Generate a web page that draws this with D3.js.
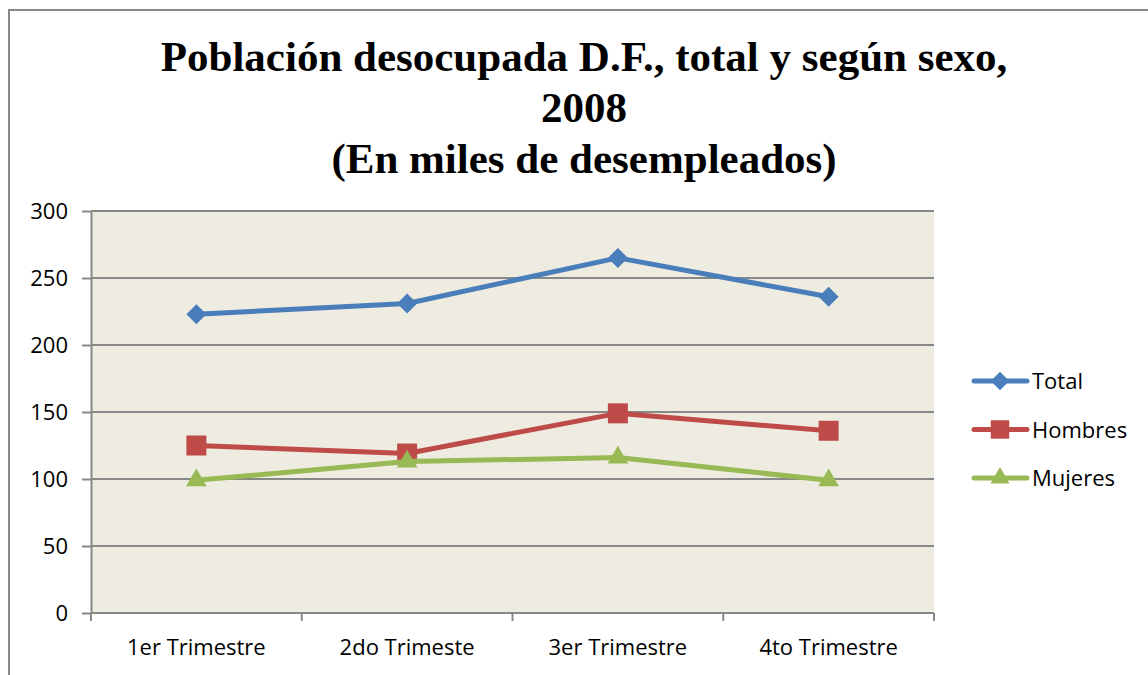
<!DOCTYPE html>
<html>
<head>
<meta charset="utf-8">
<script src="https://cdn.jsdelivr.net/npm/d3@7"></script>
<style>
  body { margin: 0; background: #fff; }
  svg { display: block; }
</style>
</head>
<body>
<script>
// chart data
const categories = ["1er Trimestre", "2do Trimeste", "3er Trimestre", "4to Trimestre"];
const seriesNames = ["Total", "Hombres", "Mujeres"];
const totalValues = [223, 231, 265, 236];
const hombresValues = [125, 119, 149, 136];
const mujeresValues = [99, 113, 116, 99];
const yTicks = [0, 50, 100, 150, 200, 250, 300];
const titleLines = ["Población desocupada D.F., total y según sexo,", "2008", "(En miles de desempleados)"];

const width = 1148;
const height = 675;

const margin = { top: 211, left: 91, right: 214, bottom: 62 };

const colors = ["#4A7EBB", "#BE4B48", "#98B954"];
const labelFont = "'Open Sans', 'Noto Sans', sans-serif";
const labelSize = "22px";

// marker shapes: diamond is a square turned 45 degrees
function marker(s, scale) {
    if (s === 0) return { d: d3.symbol().type(d3.symbolSquare).size(200 * scale)(), rot: 45 };
    if (s === 1) return { d: d3.symbol().type(d3.symbolSquare).size(400 * scale)(), rot: 0 };
    return { d: d3.symbol().type(d3.symbolTriangle).size(185 * scale)(), rot: 0 };
}

let svg = d3.select("body")
    .append("svg")
    .attr("width", width)
    .attr("height", height);

// outer frame of the chart
svg.append("rect")
    .attr("x", 9)
    .attr("y", 10)
    .attr("width", width + 20)
    .attr("height", height + 20)
    .attr("fill", "#fff")
    .attr("stroke", "#888")
    .attr("stroke-width", 2);

// title
svg.append("text")
    .attr("text-anchor", "middle")
    .style("font-family", "'Liberation Serif', 'Times New Roman', serif")
    .style("font-weight", "bold")
    .style("font-size", "43px")
    .selectAll("tspan")
    .data(titleLines)
    .enter()
    .append("tspan")
    .attr("x", 584)
    .attr("y", (d, i) => 71 + i * 51)
    .text(d => d);

const x = d3.scaleBand()
    .domain(categories)
    .range([margin.left, width - margin.right]);

const y = d3.scaleLinear()
    .domain([0, 300])
    .range([height - margin.bottom, margin.top]);

// plot background
svg.append("rect")
    .attr("x", margin.left)
    .attr("y", margin.top)
    .attr("width", width - margin.right - margin.left)
    .attr("height", height - margin.bottom - margin.top)
    .attr("fill", "#EEEBE1");

// gridlines
svg.append("g")
    .selectAll("line")
    .data(yTicks.filter(d => d > 0))
    .enter()
    .append("line")
    .attr("x1", margin.left)
    .attr("x2", width - margin.right)
    .attr("y1", d => y(d))
    .attr("y2", d => y(d))
    .attr("stroke", "#888")
    .attr("stroke-width", 2);

// y axis
let yAxis = svg.append("g")
    .attr("transform", "translate(" + margin.left + ",0)")
    .call(d3.axisLeft(y).tickValues(yTicks).tickSizeInner(9).tickSizeOuter(0).tickPadding(14));
yAxis.select(".domain").attr("stroke", "#888").attr("stroke-width", 2);
yAxis.selectAll(".tick line").attr("stroke", "#888").attr("stroke-width", 2);
yAxis.selectAll(".tick text")
    .style("font-family", labelFont)
    .style("font-size", labelSize)
    .attr("fill", "#000");

// x axis: ticks at category boundaries
let xAxis = svg.append("g")
    .attr("transform", "translate(0," + (height - margin.bottom) + ")");
xAxis.append("line")
    .attr("x1", margin.left)
    .attr("x2", width - margin.right)
    .attr("stroke", "#888")
    .attr("stroke-width", 2);
const bounds = categories.map(c => x(c)).concat([x(categories[categories.length - 1]) + x.bandwidth()]);
xAxis.selectAll(".bt")
    .data(bounds)
    .enter()
    .append("line")
    .attr("x1", d => d)
    .attr("x2", d => d)
    .attr("y1", 0)
    .attr("y2", 8)
    .attr("stroke", "#888")
    .attr("stroke-width", 2);
xAxis.selectAll("text")
    .data(categories)
    .enter()
    .append("text")
    .attr("x", d => x(d) + x.bandwidth() / 2)
    .attr("y", 42)
    .attr("text-anchor", "middle")
    .style("font-family", labelFont)
    .style("font-size", labelSize)
    .text(d => d);

const allSeries = [totalValues, hombresValues, mujeresValues];

const line = d3.line()
    .x((d, i) => x(categories[i]) + x.bandwidth() / 2)
    .y(d => y(d));

allSeries.forEach((vals, s) => {
    svg.append("path")
        .datum(vals)
        .attr("d", line)
        .attr("fill", "none")
        .attr("stroke", colors[s])
        .attr("stroke-width", 5)
        .attr("stroke-linejoin", "round");

    const m = marker(s, 1);
    svg.selectAll(".m" + s)
        .data(vals)
        .enter()
        .append("path")
        .attr("class", "m" + s)
        .attr("transform", (d, i) => "translate(" + (x(categories[i]) + x.bandwidth() / 2) + "," + y(d) + ") rotate(" + m.rot + ")")
        .attr("d", m.d)
        .attr("fill", colors[s]);
});

// legend
let legend = svg.append("g");
seriesNames.forEach((name, s) => {
    const ly = 381 + s * 48.5;
    legend.append("line")
        .attr("x1", 974)
        .attr("x2", 1027)
        .attr("y1", ly)
        .attr("y2", ly)
        .attr("stroke", colors[s])
        .attr("stroke-width", 5)
        .attr("stroke-linecap", "round");
    const m = marker(s, 0.85);
    legend.append("path")
        .attr("transform", "translate(1000," + ly + ") rotate(" + m.rot + ")")
        .attr("d", m.d)
        .attr("fill", colors[s]);
    legend.append("text")
        .attr("x", 1032)
        .attr("y", ly + 8)
        .style("font-family", labelFont)
        .style("font-size", labelSize)
        .text(name);
});
</script>
</body>
</html>
